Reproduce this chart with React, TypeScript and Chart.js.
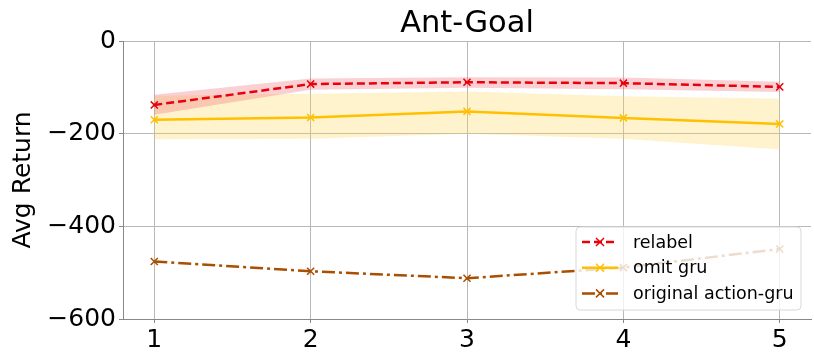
import React, { useEffect, useRef } from "react";
import { Chart, registerables } from "chart.js";

Chart.register(...registerables);

const xValues = [1, 2, 3, 4, 5];
const relabel = [-138, -93, -89, -91, -99];
const relabelUpper = [-116, -81, -78, -79, -88];
const relabelLower = [-159, -105, -101, -104, -110];
const omitGru = [-170, -165, -152, -166, -179];
const omitUpper = [-118, -114, -109, -119, -124];
const omitLower = [-212, -211, -200, -211, -234];
const original = [-476, -497, -512, -489, -449];
const yTicks = [0, -200, -400, -600];
const chartTitle = "Ant-Goal";

const FONT = "'DejaVu Sans', sans-serif";
const RED = "#e8000b";
const GOLD = "#ffc000";
const BROWN = "#a84f00";

const pts = (ys: number[]) => ys.map((y, i) => ({ x: xValues[i], y }));

const legendItems = [
  { label: "relabel", color: RED, dash: [8, 4] },
  { label: "omit gru", color: GOLD, dash: [] as number[] },
  { label: "original action-gru", color: BROWN, dash: [13, 4, 3, 4] },
];

const titlePlugin = {
  id: "areaTitle",
  afterDraw(chart: any) {
    const { ctx, chartArea } = chart;
    ctx.save();
    ctx.fillStyle = "#000";
    ctx.font = `30.5px ${FONT}`;
    ctx.textAlign = "center";
    ctx.textBaseline = "alphabetic";
    ctx.fillText(chartTitle, (chartArea.left + chartArea.right) / 2, 32);
    ctx.restore();
  },
};

const legendPlugin = {
  id: "insideLegend",
  afterDraw(chart: any) {
    const { ctx, chartArea } = chart;
    const right = chartArea.right - 10;
    const bottom = chartArea.bottom - 9;
    const w = 225;
    const h = 83;
    const left = right - w;
    const top = bottom - h;
    ctx.save();
    ctx.beginPath();
    const r = 4;
    ctx.moveTo(left + r, top);
    ctx.lineTo(right - r, top);
    ctx.quadraticCurveTo(right, top, right, top + r);
    ctx.lineTo(right, bottom - r);
    ctx.quadraticCurveTo(right, bottom, right - r, bottom);
    ctx.lineTo(left + r, bottom);
    ctx.quadraticCurveTo(left, bottom, left, bottom - r);
    ctx.lineTo(left, top + r);
    ctx.quadraticCurveTo(left, top, left + r, top);
    ctx.closePath();
    ctx.fillStyle = "rgba(255,255,255,0.8)";
    ctx.fill();
    ctx.strokeStyle = "#d8d8d8";
    ctx.lineWidth = 1;
    ctx.stroke();
    legendItems.forEach((it, i) => {
      const y = top + 15 + i * 25.7;
      const x0 = left + 6;
      const x1 = left + 42;
      ctx.beginPath();
      ctx.setLineDash(it.dash);
      ctx.strokeStyle = it.color;
      ctx.lineWidth = 2.5;
      ctx.moveTo(x0, y);
      ctx.lineTo(x1, y);
      ctx.stroke();
      ctx.setLineDash([]);
      const cx = (x0 + x1) / 2;
      ctx.lineWidth = 1.5;
      ctx.beginPath();
      ctx.moveTo(cx - 4, y - 4);
      ctx.lineTo(cx + 4, y + 4);
      ctx.moveTo(cx + 4, y - 4);
      ctx.lineTo(cx - 4, y + 4);
      ctx.stroke();
      ctx.fillStyle = "#000";
      ctx.font = `17.5px ${FONT}`;
      ctx.textBaseline = "middle";
      ctx.textAlign = "left";
      ctx.fillText(it.label, left + 57, y + 1);
    });
    ctx.restore();
  },
};

export default function App() {
  const ref = useRef<HTMLCanvasElement>(null);
  useEffect(() => {
    if (!ref.current) return;
    const band = (data: number[], fill: any, color: string) => ({
      data: pts(data),
      borderWidth: 0,
      borderColor: "transparent",
      pointRadius: 0,
      fill,
      backgroundColor: color,
      tension: 0,
    });
    const line = (data: number[], color: string, dash: number[]) => ({
      data: pts(data),
      borderColor: color,
      backgroundColor: color,
      borderWidth: 2.5,
      borderDash: dash,
      pointStyle: "crossRot",
      pointRadius: 5,
      pointBorderWidth: 1.5,
      pointBorderColor: color,
      fill: false,
      tension: 0,
    });
    const chart = new Chart(ref.current, {
      type: "line",
      data: {
        datasets: [
          line(relabel, RED, [8, 4]) as any,
          line(omitGru, GOLD, []) as any,
          line(original, BROWN, [13, 4, 3, 4]) as any,
          band(relabelUpper, false, "rgba(240,100,110,0.3)") as any,
          band(relabelLower, "-1", "rgba(240,100,110,0.3)") as any,
          band(omitUpper, false, "rgba(255,215,90,0.3)") as any,
          band(omitLower, "-1", "rgba(255,215,90,0.3)") as any,
        ],
      },
      options: {
        animation: false,
        responsive: false,
        devicePixelRatio: 1,
        layout: { autoPadding: false, padding: { top: 41, left: 0, right: 3, bottom: 0 } },
        plugins: {
          legend: { display: false },
          tooltip: { enabled: false },
          filler: { drawTime: "beforeDatasetsDraw" } as any,
          title: { display: false },
        },
        scales: {
          x: {
            type: "linear",
            min: 0.8,
            max: 5.2,
            afterBuildTicks: (s: any) => {
              s.ticks = xValues.map((v) => ({ value: v }));
            },
            afterFit: (s: any) => {
              s.height = 35;
            },
            ticks: {
              color: "#000",
              font: { family: FONT, size: 25 },
              padding: 2,
              callback: (v: any) => String(v),
            },
            grid: { color: "#b8b8b8", lineWidth: 1, tickLength: 4, tickColor: "#888" },
            border: { color: "#888", width: 1 },
          },
          y: {
            min: -600,
            max: 0,
            afterBuildTicks: (s: any) => {
              s.ticks = yTicks.map((v) => ({ value: v }));
            },
            afterFit: (s: any) => {
              s.width = 123;
            },
            ticks: {
              color: "#000",
              font: { family: FONT, size: 25 },
              padding: 3,
              callback: (v: any) => (Number(v) < 0 ? "\u2212" + Math.abs(Number(v)) : String(v)),
            },
            title: {
              display: true,
              text: "Avg Return",
              color: "#000",
              font: { family: FONT, size: 25 },
              padding: { top: 8, bottom: 4 },
            },
            grid: { color: "#b8b8b8", lineWidth: 1, tickLength: 4, tickColor: "#888" },
            border: { color: "#888", width: 1 },
          },
        },
      },
      plugins: [titlePlugin, legendPlugin],
    });
    return () => chart.destroy();
  }, []);
  return (
    <div style={{ position: "fixed", left: 0, top: 0, width: 814, height: 354, background: "#fff" }}>
      <canvas ref={ref} width={814} height={354} />
    </div>
  );
}
